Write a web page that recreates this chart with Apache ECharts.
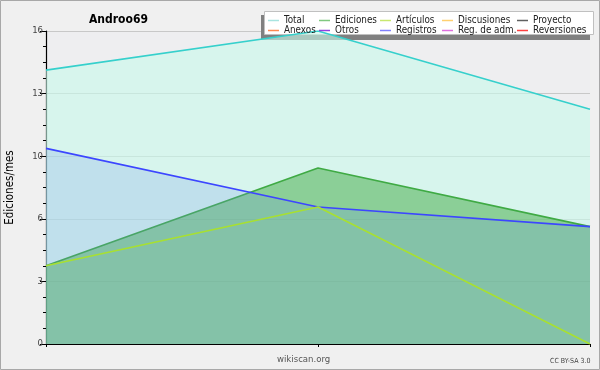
<!DOCTYPE html>
<html>
<head>
<meta charset="utf-8">
<script src="https://cdn.jsdelivr.net/npm/echarts@6/dist/echarts.min.js"></script>
<style>
html,body{margin:0;padding:0;background:#f0f0f0;}
#c{width:600px;height:370px;}
</style>
</head>
<body>
<div id="c"></div>
<script>
var categories = ['mes 1', 'mes 2', 'mes 3'];
var total = [14, 16, 12];
var ediciones = [4, 9, 6];
var articulos = [4, 7, 0];
var registros = [10, 7, 6];
var yTickLabels = ['0', '3', '6', '10', '13', '16'];
var legendCols = [
  ['Total', 'Anexos'],
  ['Ediciones', 'Otros'],
  ['Artículos', 'Registros'],
  ['Discusiones', 'Reg. de adm.'],
  ['Proyecto', 'Reversiones']
];
var legendColors = {
  'Total': '#a8e4e0', 'Anexos': '#ff8850', 'Ediciones': '#80c880', 'Otros': '#9040e0',
  'Artículos': '#c8e870', 'Registros': '#8080ff', 'Discusiones': '#ffd070',
  'Reg. de adm.': '#e070e0', 'Proyecto': '#606060', 'Reversiones': '#ff4040'
};
var legendLefts = [268, 319, 380, 442, 517];

var FONT = '"DejaVu Sans Condensed", "DejaVu Sans", sans-serif';
var chart = echarts.init(document.getElementById('c'), null, {renderer: 'canvas'});

var legends = legendCols.map(function (col, i) {
  return {
    orient: 'vertical',
    left: legendLefts[i],
    top: 15.5,
    itemGap: 0,
    itemWidth: 11,
    itemHeight: 1.5,
    icon: 'rect',
    selectedMode: false,
    textStyle: {fontFamily: FONT, fontSize: 9.8, color: '#222', lineHeight: 9.5},
    padding: 0,
    data: col.map(function (n) { return {name: n, itemStyle: {color: legendColors[n]}}; })
  };
});

function line(name, data, color, width, areaColor, areaOpacity, z) {
  var s = {
    name: name, type: 'line', data: data, symbol: 'none', z: z,
    lineStyle: {color: color, width: width}, itemStyle: {color: color},
    silent: true
  };
  if (areaColor) s.areaStyle = {color: areaColor, opacity: areaOpacity};
  return s;
}

var series = [
  line('Total', total, '#36d0cc', 1.6, '#c8faeb', 0.6, 2),
  line('Ediciones', ediciones, '#3faa44', 1.6, '#4caf50', 0.55, 3),
  line('Artículos', articulos, '#a8e030', 1.6, null, 0, 5),
  line('Registros', registros, '#3c46ff', 1.6, '#6e91e6', 0.21, 4)
];
['Anexos', 'Otros', 'Discusiones', 'Reg. de adm.', 'Proyecto', 'Reversiones'].forEach(function (n) {
  series.push({name: n, type: 'line', data: [], itemStyle: {color: legendColors[n]}});
});

chart.setOption({
  backgroundColor: '#f0f0f0',
  animation: false,
  title: {
    text: 'Androo69', left: 84, top: 9,
    textStyle: {fontFamily: FONT, fontSize: 12, fontWeight: 'bold', color: '#000'}
  },
  legend: legends,
  grid: {left: 46, right: 10, top: 31, bottom: 26, show: true, backgroundColor: '#eeeef0', borderWidth: 0, outerBoundsMode: 'none', containLabel: false},
  xAxis: {
    type: 'category', data: categories, boundaryGap: false,
    axisLine: {lineStyle: {color: '#000', width: 1.2}},
    axisTick: {show: true, length: 3, lineStyle: {color: '#000'}},
    axisLabel: {show: false},
    splitLine: {show: false}
  },
  yAxis: {
    type: 'value', min: 0, max: 16, interval: 3.2,
    name: 'Ediciones/mes', nameLocation: 'middle', nameGap: 30,
    nameTextStyle: {fontFamily: FONT, fontSize: 11.5, color: '#000'},
    axisLine: {show: true, lineStyle: {color: '#000', width: 1.2}},
    axisTick: {show: true, length: 6, lineStyle: {color: '#000'}},
    minorTick: {show: true, splitNumber: 4, length: 3, lineStyle: {color: '#000'}},
    axisLabel: {
      fontFamily: FONT, fontSize: 9.5, color: '#444', margin: 3,
      formatter: function (v) { return yTickLabels[Math.round(v / 3.2)]; }
    },
    splitLine: {show: true, lineStyle: {color: '#c8c8c8', width: 1}}
  },
  graphic: [
    {type: 'rect', shape: {x: 0.5, y: 0.5, width: 599, height: 369}, style: {fill: 'none', stroke: '#a8a8a8', lineWidth: 1}, z: 100},
    {type: 'rect', shape: {x: 261, y: 15, width: 329, height: 25}, style: {fill: '#808080'}, z: 1},
    {type: 'rect', shape: {x: 264.5, y: 11.5, width: 329, height: 23}, style: {fill: '#ffffff', stroke: '#c0c0c0', lineWidth: 1}, z: 2},
    {type: 'text', left: 277, top: 355, style: {text: 'wikiscan.org', font: '9.5px ' + FONT, fill: '#555'}, z: 10},
    {type: 'text', left: 550, top: 358, style: {text: 'CC BY-SA 3.0', font: '7px ' + FONT, fill: '#444'}, z: 10}
  ],
  series: series
});
</script>
</body>
</html>
